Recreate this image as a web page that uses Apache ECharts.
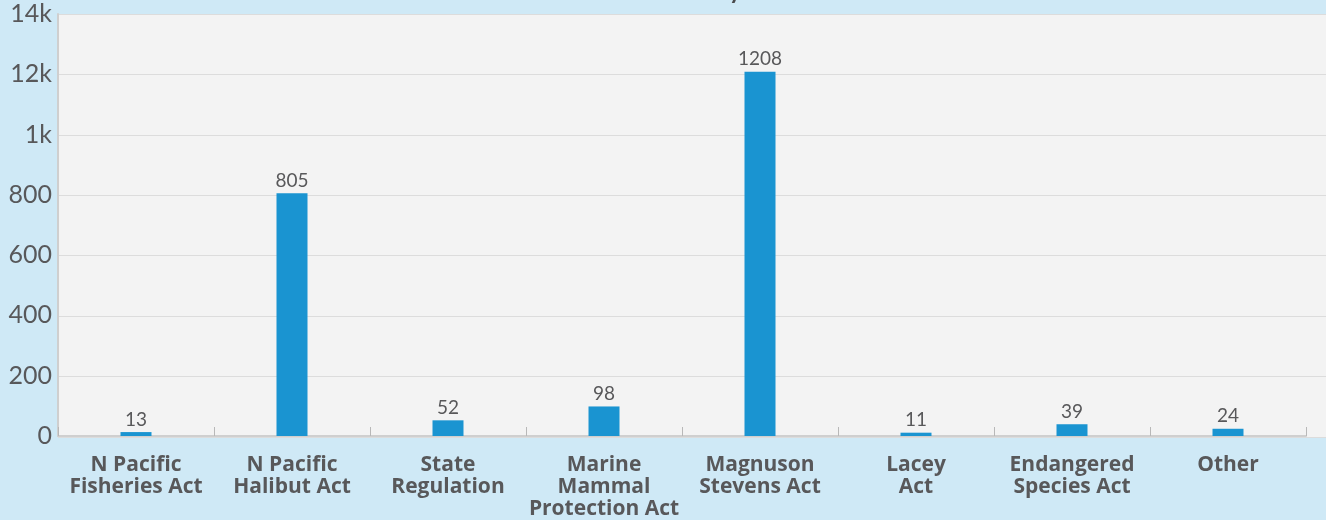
<!DOCTYPE html>
<html>
<head>
<meta charset="utf-8">
<style>
  html, body { margin: 0; padding: 0; background: #cfe9f6; }
  #chart { width: 1326px; height: 520px; }
</style>
<script src="https://cdn.jsdelivr.net/npm/echarts@6/dist/echarts.min.js"></script>
</head>
<body>
<div id="chart"></div>
<script>
// Case counts per governing statute
const categories = [
  'N Pacific\nFisheries Act',
  'N Pacific\nHalibut Act',
  'State\nRegulation',
  'Marine\nMammal\nProtection Act',
  'Magnuson\nStevens Act',
  'Lacey\nAct',
  'Endangered\nSpecies Act',
  'Other'
];
const caseCounts = [13, 805, 52, 98, 1208, 11, 39, 24];

// Value-axis tick labels, as printed on the axis
const tickValues = [0, 200, 400, 600, 800, 1000, 1200, 1400];
const tickLabels = ['0', '200', '400', '600', '800', '1k', '12k', '14k'];

const chart = echarts.init(document.getElementById('chart'), null, { renderer: 'canvas' });
const numFont = 'Lato, sans-serif';
const catFont = '"Open Sans", Lato, sans-serif';
const textColor = '#58585a';

chart.setOption({
  backgroundColor: '#cfe9f6',
  title: {
    text: 'Enforcement Actions by Statute',
    left: 481,
    top: -26,
    textStyle: { fontFamily: numFont, fontSize: 24, fontWeight: 'bold', color: '#4a4a4c' }
  },
  grid: [
    { left: 58, right: 20, top: 14, bottom: 83 },
    { left: 58, right: 0, top: 14, bottom: 83, show: true, backgroundColor: '#f3f3f3', borderWidth: 0, z: 0 }
  ],
  xAxis: [
    {
      type: 'category',
      gridIndex: 0,
      data: categories,
      axisLine: { lineStyle: { color: '#cfcfcf', width: 2 } },
      axisTick: { show: true, inside: true, length: 9, lineStyle: { color: '#b8b8b8' } },
      axisLabel: {
        interval: 0,
        margin: 18,
        fontFamily: catFont,
        fontSize: 21,
        fontWeight: 'bold',
        lineHeight: 22,
        color: textColor
      }
    },
    {
      type: 'value',
      gridIndex: 1,
      show: false
    }
  ],
  yAxis: [
    {
      type: 'value',
      gridIndex: 0,
      min: 0,
      max: 1400,
      interval: 200,
      axisLine: { show: true, lineStyle: { color: '#cfcfcf', width: 2 } },
      axisTick: { show: false },
      splitLine: { show: false },
      axisLabel: {
        margin: 6,
        fontFamily: numFont,
        fontSize: 25,
        color: textColor,
        formatter: v => tickLabels[tickValues.indexOf(v)]
      }
    },
    {
      type: 'value',
      gridIndex: 1,
      min: 0,
      max: 1400,
      interval: 200,
      axisLine: { show: false },
      axisTick: { show: false },
      axisLabel: { show: false },
      splitLine: { show: true, lineStyle: { color: '#dcdcdc', width: 1 } }
    }
  ],
  series: [
    {
      type: 'bar',
      xAxisIndex: 0,
      yAxisIndex: 0,
      data: caseCounts,
      barWidth: 31,
      itemStyle: { color: '#1a94d1' },
      label: {
        show: true,
        position: 'top',
        distance: 3,
        fontFamily: numFont,
        fontSize: 19,
        color: textColor
      },
      z: 3
    }
  ]
});
</script>
</body>
</html>
